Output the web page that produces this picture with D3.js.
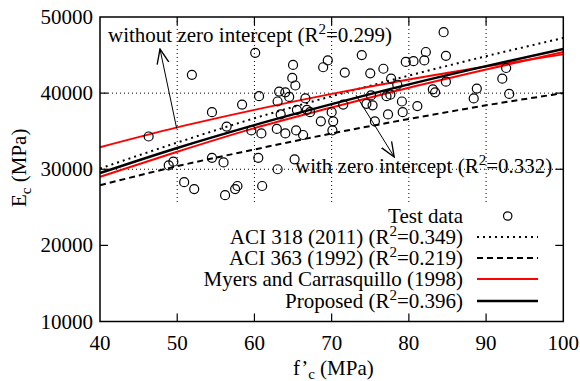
<!DOCTYPE html>
<html>
<head>
<meta charset="utf-8">
<script src="https://d3js.org/d3.v7.min.js"></script>
<style>
  body { margin: 0; background: #fff; }
  svg text { font-family: "Liberation Serif", "Times New Roman", serif; fill: #000; }
</style>
</head>
<body>
<div id="chart"></div>
<script>
// test data: f'c (MPa) and Ec (MPa)
var fcData = [46.3, 48.9, 49.5, 50.9, 51.9, 52.2, 54.5, 54.5, 56.0, 56.2, 56.4, 57.5, 57.8, 58.4, 59.6,
  60.1, 60.6, 60.9, 60.5, 61.0, 63.0, 62.9, 64.0, 63.4, 63.0, 63.2, 64.0, 64.5, 65.0, 64.9,
  65.3, 65.4, 65.2, 65.5, 66.6, 66.8, 67.2, 66.3, 68.6, 68.9, 69.5, 70.0, 70.1, 71.5, 71.7,
  73.9, 74.5, 75.0, 75.1, 75.3, 75.6, 76.7, 77.1, 77.6, 77.3, 77.7, 78.5, 79.1, 79.2, 79.6,
  80.6, 81.1, 82.0, 82.2, 83.1, 83.4, 84.5, 84.8, 84.8, 88.4, 88.8, 92.1, 92.6, 93.0, 70.2];
var ecData = [34300, 30500, 31000, 28300, 42400, 27400, 37500, 31500, 30900, 26600, 35600, 27400, 27800, 38500, 35100,
  45300, 39600, 34700, 31500, 27800, 30000, 35300, 34700, 37200, 38900, 40200, 40100, 39500, 43700, 42000,
  41000, 35100, 31300, 37800, 39300, 37800, 37500, 34500, 36300, 43400, 44300, 37500, 35100, 38500, 42700,
  45000, 38600, 42600, 39700, 38400, 36300, 43200, 39600, 39800, 37200, 41900, 41100, 38900, 37500, 44100,
  44200, 38300, 44300, 45400, 40500, 40100, 48000, 44900, 41500, 39300, 40600, 41900, 43300, 39900, 36300];

// model curves read at these strengths
var fcCurve = [40, 50, 60, 70, 80, 90, 100];
var aci318 = [30100, 33500, 36700, 39600, 42300, 44850, 47250];
var aci363 = [27900, 30400, 32600, 34700, 36600, 38400, 40000];
var myersNoZero = [32900, 35500, 37800, 39900, 41800, 43500, 45100];
var myersZero = [29000, 32300, 35400, 38100, 40700, 43100, 45400];
var proposed = [29500, 32800, 35800, 38550, 41150, 43550, 45800];

var xTicks = [40, 50, 60, 70, 80, 90, 100];
var yTicks = [10000, 20000, 30000, 40000, 50000];

(function(){
var W = 580, H = 381,
  mL = 100, mR = 563.3, mT = 17, mB = 321.5,
  fs = 21;

var svg = d3.select('#chart').append('svg').attr('width', W).attr('height', H);

var x = d3.scaleLinear().domain([40, 100]).range([mL, mR]),
  y = d3.scaleLinear().domain([10000, 50000]).range([mB, mT]);

// grid
var grid = svg.append('g').style('stroke', '#000').style('stroke-width', 1).style('stroke-dasharray', '1 3');
grid.selectAll('.gx').data(xTicks.slice(1, -1)).enter().append('line')
  .attr('x1', function(d){ return x(d); }).attr('x2', function(d){ return x(d); })
  .attr('y1', mT).attr('y2', mB);
grid.selectAll('.gy').data(yTicks.slice(1, -1)).enter().append('line')
  .attr('x1', mL).attr('x2', mR)
  .attr('y1', function(d){ return y(d); }).attr('y2', function(d){ return y(d); });

// opaque key box hides the lower grid
svg.append('rect').attr('x', mL + 1).attr('y', 205).attr('width', mR - mL - 2).attr('height', mB - 206)
  .style('fill', '#fff');

// model lines
var line = d3.line().curve(d3.curveMonotoneX)
  .x(function(d){ return x(d[0]); }).y(function(d){ return y(d[1]); });
function curve(vals, color, width, dash){
  svg.append('path').datum(d3.zip(fcCurve, vals)).attr('d', line)
    .style('fill', 'none').style('stroke', color).style('stroke-width', width)
    .style('stroke-dasharray', dash || null);
}
curve(aci318, '#000', 2, '2 4');
curve(aci363, '#000', 2, '6 4');
curve(myersNoZero, '#f00', 2);
curve(myersZero, '#f00', 2);
curve(proposed, '#000', 2.5);

// test points
svg.append('g').selectAll('circle').data(d3.zip(fcData, ecData)).enter().append('circle')
  .attr('cx', function(d){ return x(d[0]); }).attr('cy', function(d){ return y(d[1]); })
  .attr('r', 4.5).style('fill', 'none').style('stroke', '#000').style('stroke-width', 1.2);

// annotations
svg.append('defs').append('marker').attr('id', 'arr').attr('viewBox', '0 0 12 12')
  .attr('refX', 11).attr('refY', 6).attr('markerWidth', 16).attr('markerHeight', 16)
  .attr('markerUnits', 'userSpaceOnUse').attr('orient', 'auto')
  .append('path').attr('d', 'M0,1.5 L11,6 L0,10.5').style('fill', 'none').style('stroke', '#000').style('stroke-width', 1);

function arrow(f0, e0, f1, e1){
  svg.append('line').attr('x1', x(f0)).attr('y1', y(e0)).attr('x2', x(f1)).attr('y2', y(e1))
    .style('stroke', '#000').style('stroke-width', 1).attr('marker-end', 'url(#arr)');
}
arrow(49.93, 35360, 47.77, 45790);
arrow(73.15, 39740, 78.1, 31620);

function rsq(t, pre, val){
  t.append('tspan').text(pre + '(R');
  t.append('tspan').attr('dy', -8).style('font-size', '15px').text('2');
  t.append('tspan').attr('dy', 8).text('=' + val + ')');
}
rsq(svg.append('text').attr('x', 108).attr('y', 42).style('font-size', fs + 'px'), 'without zero intercept ', '0.299');
rsq(svg.append('text').attr('x', 295).attr('y', 173).style('font-size', fs + 'px'), 'with zero intercept ', '0.332');

// frame and ticks
svg.append('rect').attr('x', mL).attr('y', mT).attr('width', mR - mL).attr('height', mB - mT)
  .style('fill', 'none').style('stroke', '#000').style('stroke-width', 1.5);
var ticks = svg.append('g').style('stroke', '#000').style('stroke-width', 1.2);
xTicks.slice(1, -1).forEach(function(d){
  ticks.append('line').attr('x1', x(d)).attr('x2', x(d)).attr('y1', mB).attr('y2', mB - 8);
  ticks.append('line').attr('x1', x(d)).attr('x2', x(d)).attr('y1', mT).attr('y2', mT + 8);
});
yTicks.slice(1, -1).forEach(function(d){
  ticks.append('line').attr('x1', mL).attr('x2', mL + 8).attr('y1', y(d)).attr('y2', y(d));
  ticks.append('line').attr('x1', mR).attr('x2', mR - 8).attr('y1', y(d)).attr('y2', y(d));
});

svg.selectAll('.xl').data(xTicks).enter().append('text')
  .attr('x', function(d){ return x(d); }).attr('y', 350).attr('text-anchor', 'middle')
  .style('font-size', fs + 'px').text(function(d){ return d; });
svg.selectAll('.yl').data(yTicks).enter().append('text')
  .attr('x', 93).attr('y', function(d){ return y(d) + 7; }).attr('text-anchor', 'end')
  .style('font-size', fs + 'px').text(function(d){ return d; });

// axis titles
var xt = svg.append('text').attr('x', 293).attr('y', 375).style('font-size', fs + 'px');
xt.append('tspan').text('f’');
xt.append('tspan').attr('dy', 4).style('font-size', '15px').text('c');
xt.append('tspan').attr('dy', -4).text(' (MPa)');

var yt = svg.append('text').attr('transform', 'translate(26,207) rotate(-90)').style('font-size', fs + 'px');
yt.append('tspan').text('E');
yt.append('tspan').attr('dy', 5).style('font-size', '15px').text('c');
yt.append('tspan').attr('dy', -5).text(' (MPa)');

// key
var key = svg.append('g');
var keyRows = [216, 237, 258, 279, 301];
var kx = 463, s0 = 477, s1 = 538;
key.append('text').attr('x', kx).attr('y', keyRows[0] + 7).attr('text-anchor', 'end').style('font-size', fs + 'px').text('Test data');
key.append('circle').attr('cx', 507.7).attr('cy', keyRows[0]).attr('r', 4.2)
  .style('fill', 'none').style('stroke', '#000').style('stroke-width', 1.2);

var keyLines = [
  {pre: 'ACI 318 (2011) ', val: '0.349', color: '#000', w: 2, dash: '2 4'},
  {pre: 'ACI 363 (1992) ', val: '0.219', color: '#000', w: 2, dash: '6 4'},
  {pre: 'Myers and Carrasquillo (1998)', color: '#f00', w: 2},
  {pre: 'Proposed ', val: '0.396', color: '#000', w: 2.5}
];
keyLines.forEach(function(k, i){
  var ry = keyRows[i + 1];
  var t = key.append('text').attr('x', kx).attr('y', ry + 7).attr('text-anchor', 'end').style('font-size', fs + 'px');
  if (k.val) rsq(t, k.pre, k.val); else t.text(k.pre);
  key.append('line').attr('x1', s0).attr('x2', s1).attr('y1', ry).attr('y2', ry)
    .style('stroke', k.color).style('stroke-width', k.w).style('stroke-dasharray', k.dash || null);
});
})();
</script>
</body>
</html>
